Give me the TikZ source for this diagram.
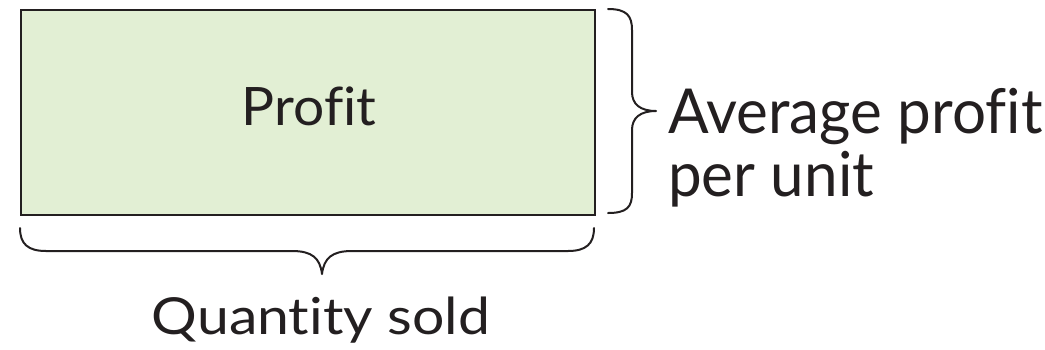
\documentclass[tikz,border=0pt]{standalone}
\usepackage{fontspec}
\usepackage{graphicx}
\setmainfont{Lato}[Ligatures=NoCommon]
\definecolor{boxfill}{RGB}{226,239,212}
\definecolor{ink}{RGB}{35,31,32}
\tikzset{
  box/.style={draw=ink, line width=2pt, fill=boxfill, inner sep=0pt},
  bracepath/.style={draw=ink, line width=2pt, line cap=round, line join=round},
  label/.style={text=ink, inner sep=0pt}
}
\begin{document}
\begin{tikzpicture}[x=1pt, y=-1pt]
  \useasboundingbox (0,0) rectangle (1045,349);
  % the profit rectangle
  \node[box, minimum width=574pt, minimum height=205pt, anchor=north west] (rect) at (20,9) {};
  \node[label, anchor=base] (profit) at (309,125)
    {\scalebox{1.04}[1]{\fontsize{53}{60}\selectfont Profit}};
  % brace along the right side
  \draw[bracepath] (608,9) .. controls (627,9) and (632,16) .. (632,30)
    -- (632,92) .. controls (632,104) and (640,111) .. (656,111)
    .. controls (640,111) and (632,118) .. (632,130)
    -- (632,193) .. controls (632,207) and (627,213) .. (608,213);
  \node[label, anchor=base west] (avg) at (668,133)
    {\scalebox{0.97}[1]{\fontsize{62}{70}\selectfont Average profit}};
  \node[label, anchor=base west] (per) at (668,196)
    {\scalebox{0.97}[1]{\fontsize{62}{70}\selectfont per unit}};
  % brace along the bottom
  \draw[bracepath] (20,228) .. controls (20,244) and (28,251) .. (46,251)
    -- (292,251) .. controls (312,251) and (320,258) .. (322,274)
    .. controls (324,258) and (332,251) .. (352,251)
    -- (568,251) .. controls (586,251) and (594,244) .. (594,228);
  \node[label, anchor=base] (qty) at (321,334)
    {\scalebox{1.12}[1]{\fontsize{51}{60}\selectfont Quantity sold}};
\end{tikzpicture}
\end{document}
